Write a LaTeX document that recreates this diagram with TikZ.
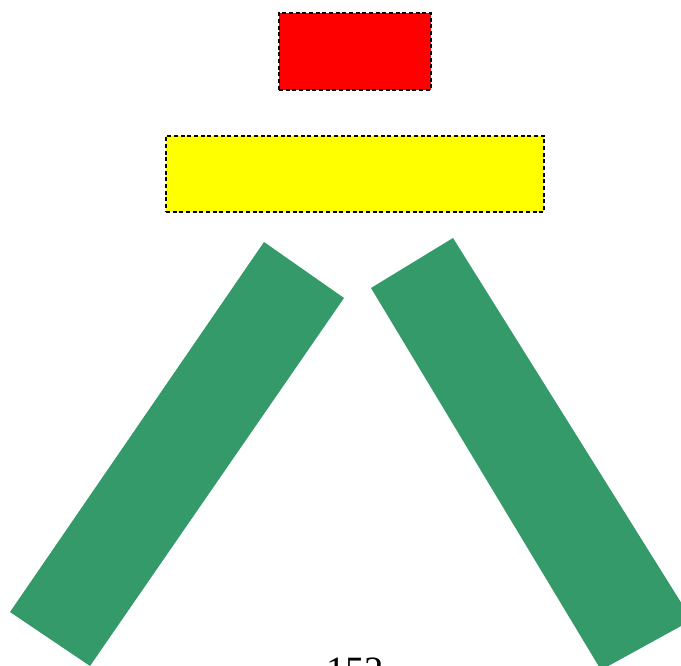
\documentclass[tikz,border=0pt]{standalone}
\usepackage{fontspec}
\setmainfont{Liberation Serif}
\usepackage{xcolor}
\usepackage{tikz}
\definecolor{barGreen}{RGB}{53,154,106}
\definecolor{boxRed}{RGB}{255,0,0}
\definecolor{boxYellow}{RGB}{255,255,0}

\begin{document}
\begin{tikzpicture}[
    x=0.75pt, y=-0.75pt,
    box/.style={rectangle, draw=black, dashed, dash pattern=on 3pt off 2pt, line width=1.2pt, inner sep=0pt},
    bar/.style={fill=barGreen, draw=none},
]
\useasboundingbox (0,0) rectangle (681,666);
\clip (0,0) rectangle (681,666);
\node[box, fill=boxRed, minimum width=114pt, minimum height=57.5pt] (top) at (355,51.5) {};
\node[box, fill=boxYellow, minimum width=283.5pt, minimum height=57pt] (shelf) at (355,174) {};
% legs
\fill[bar] (264,242) -- (344,298) -- (90,666) -- (10,612) -- cycle;
\fill[bar] (371,288) -- (453,238) -- (692,620) -- (601,670) -- cycle;
\node[font=\fontsize{29}{32}\selectfont, anchor=base] (num) at (355,683) {152};
\end{tikzpicture}
\end{document}
